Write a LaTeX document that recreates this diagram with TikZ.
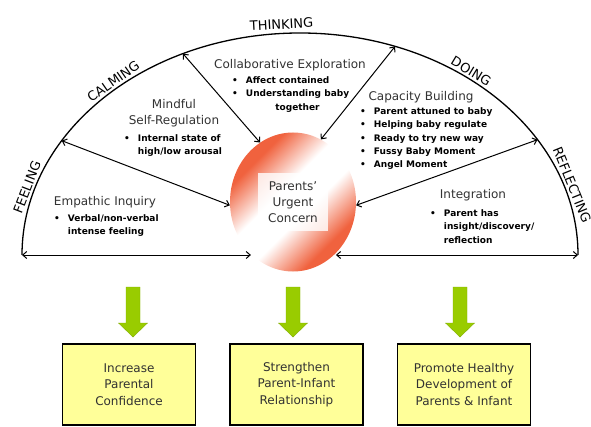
\documentclass[tikz,border=0pt]{standalone}
\usepackage{fontspec}
\setmainfont{DejaVu Sans}
\usetikzlibrary{arrows.meta,calc,positioning,shapes.geometric}

\definecolor{urgent}{RGB}{240,98,62}
\definecolor{goalyellow}{RGB}{255,255,153}
\definecolor{arrowgreen}{RGB}{153,204,0}
\definecolor{headgray}{RGB}{50,50,50}

\pgfdeclarehorizontalshading{concernshade}{100bp}{%
    color(0bp)=(urgent); color(29bp)=(urgent); color(44bp)=(white);
    color(56bp)=(white); color(71bp)=(urgent); color(100bp)=(urgent)}

\newcommand\blist[1]{\begin{tabular}{@{}l@{\hspace{8pt}}l@{}}#1\end{tabular}}

\tikzset{
    arcline/.style = {
        line width=1.3pt,
        },
    link/.style = {
        line width=1pt,
        {Straight Barb[length=4pt,width=7pt]}-{Straight Barb[length=4pt,width=7pt]},
        },
    stage/.style = {
        font=\fontsize{13}{15}\selectfont,
        anchor=south,
        inner sep=2.5pt,
        },
    heading/.style = {
        font=\fontsize{12}{16.5}\selectfont,
        text=headgray,
        align=center,
        inner sep=0pt,
        },
    bullets/.style = {
        font=\bfseries\fontsize{9}{13.3}\selectfont,
        anchor=north west,
        inner sep=0pt,
        },
    goal/.style = {
        draw,
        line width=1.5pt,
        fill=goalyellow,
        minimum width=133pt,
        minimum height=81pt,
        font=\fontsize{12}{16.5}\selectfont,
        text=headgray,
        align=center,
        },
}

\begin{document}
\begin{tikzpicture}[x=1pt,y=1pt]
    \useasboundingbox (0,0) rectangle (591,426);

    % half circle
    \coordinate (c) at (300,171);
    \coordinate (fl) at (22,171);
    \coordinate (fr) at (578,171);
    \draw[arcline] (fl) arc[start angle=180, end angle=0, x radius=278, y radius=222];
    \coordinate (p1) at ($(c)+(149:278 and 222)$);
    \coordinate (p2) at ($(c)+(114.9:278 and 222)$);
    \coordinate (p3) at ($(c)+(70:278 and 222)$);
    \coordinate (p4) at ($(c)+(31.3:278 and 222)$);

    % stages round the arc
    \node[stage, rotate=69] (feeling) at ($(c)+(163:278 and 222)$) {FEELING};
    \node[stage, rotate=35] (calming) at ($(c)+(131:278 and 222)$) {CALMING};
    \node[stage, rotate=3, inner sep=4pt] (thinking) at ($(c)+(93.7:278 and 222)$) {THINKING};
    \node[stage, rotate=-31] (doing) at ($(c)+(53:278 and 222)$) {DOING};
    \node[stage, rotate=-68] (reflecting) at ($(c)+(17.6:278 and 222)$) {REFLECTING};

    % centre
    \node[ellipse, shade, shading=concernshade, shading angle=-45,
          minimum width=126pt, minimum height=139pt] (concern) at (293,224) {};
    \node[fill=white, fill opacity=0.8, text opacity=1, minimum width=70pt,
          minimum height=58pt, heading, font=\fontsize{12}{16}\selectfont] (concerntext) at (concern) {Parents’\\Urgent\\Concern};

    \draw[link] (p1) -- (concern.183);
    \draw[link] (p2) -- (concern.119);
    \draw[link] (p3) -- (concern.66);
    \draw[link] (p4) -- (concern.357);
    \draw[link] (fl) -- (fl -| concern.231);
    \draw[link] (concern.310 |- fr) -- (fr);

    % sectors
    \node[heading] (collab) at (290,361) {Collaborative Exploration};
    \node[bullets] (collabpts) at (232,352) {\blist{\textbullet & Affect contained\\ \textbullet & Understanding baby\\ & \multicolumn{1}{c}{together}}};
    \node[heading] (mindful) at (174,313) {Mindful\\Self-Regulation};
    \node[bullets] (mindfulpts) at (124,294) {\blist{\textbullet & Internal state of\\ & high/low arousal}};
    \node[heading] (capacity) at (421,329) {Capacity Building};
    \node[bullets] (capacitypts) at (360,321) {\blist{\textbullet & Parent attuned to baby\\ \textbullet & Helping baby regulate\\ \textbullet & Ready to try new way\\ \textbullet & Fussy Baby Moment\\ \textbullet & Angel Moment}};
    \node[heading] (empathic) at (105,224) {Empathic Inquiry};
    \node[bullets] (empathicpts) at (54,214) {\blist{\textbullet & Verbal/non-verbal\\ & intense feeling}};
    \node[heading] (integration) at (473,231) {Integration};
    \node[bullets] (integrationpts) at (430,219) {\blist{\textbullet & Parent has\\ & insight/discovery/\\ & reflection}};

    % outcomes
    \foreach \x in {133,293,460}
        \filldraw[fill=arrowgreen, draw=arrowgreen!85!black, line width=0.4pt]
            (\x-7,139) -- (\x+7,139) -- (\x+7,103) -- (\x+14.5,103) -- (\x,89)
            -- (\x-14.5,103) -- (\x-7,103) -- cycle;

    \node[goal] (goal1) at (129,41.5) {Increase\\Parental\\Confidence};
    \node[goal, right=33pt of goal1] (goal2) {Strengthen\\Parent-Infant\\Relationship};
    \node[goal, right=33pt of goal2] (goal3) {Promote Healthy\\Development of\\Parents \& Infant};
\end{tikzpicture}
\end{document}
